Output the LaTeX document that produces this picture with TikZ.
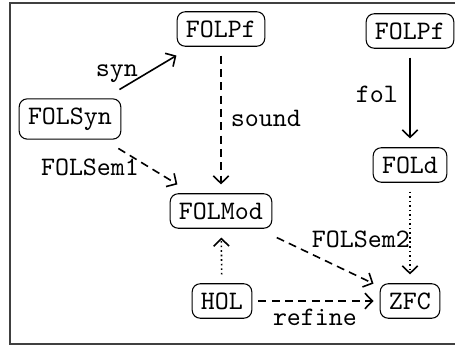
\documentclass[tikz,border=0pt]{standalone}
\usetikzlibrary{arrows.meta}
\begin{document}
\begin{tikzpicture}[x=0.375pt,y=-0.375pt,
  obj/.style={draw, rounded corners=3pt, font=\ttfamily, inner sep=3.3pt,
              outer xsep=2.5pt, outer ysep=3.5pt},
  lbl/.style={font=\ttfamily, inner sep=0pt, anchor=base},
  arr/.style={-{Straight Barb[length=2.8pt,width=5.8pt]}, line width=0.6pt},
  dasharrow/.style={arr, dash pattern=on 3pt off 2pt},
  dotarrow/.style={arr, dash pattern=on 0.6pt off 1.1pt}]
\useasboundingbox (0,0) rectangle (455,345);
% frame
\draw[black!75, line width=0.6pt] (10,3) rectangle (470,344);

% objects
\node[obj] (pf)   at (221,29)  {FOLPf};
\node[obj] (syn)  at (70,119)  {FOLSyn};
\node[obj] (pf2)  at (410,31)  {FOLPf};
\node[obj] (fold) at (410,165) {FOLd};
\node[obj] (mod)  at (221,211) {FOLMod};
\node[obj] (hol)  at (222,301) {HOL};
\node[obj] (zfc)  at (410,301) {ZFC};

% labels
\node[lbl] (l-syn)   at (117,77)  {syn};
\node[lbl] (l-sem1)  at (90,176)  {FOLSem1};
\node[lbl] (l-sound) at (266,127) {sound};
\node[lbl] (l-fol)   at (377,103) {fol};
\node[lbl] (l-sem2)  at (361,248) {FOLSem2};
\node[lbl] (l-ref)   at (315,326) {refine};

% arrows
\draw[arr] (syn) -- (pf);
\draw[dasharrow] (pf) -- (mod);
\draw[dasharrow] (syn) -- (mod);
\draw[arr] (pf2) -- (fold);
\draw[dotarrow] (fold) -- (zfc);
\draw[dotarrow] (hol) -- (mod);
\draw[dasharrow] (mod) -- (zfc);
\draw[dasharrow] (hol) -- (zfc);
\end{tikzpicture}
\end{document}
